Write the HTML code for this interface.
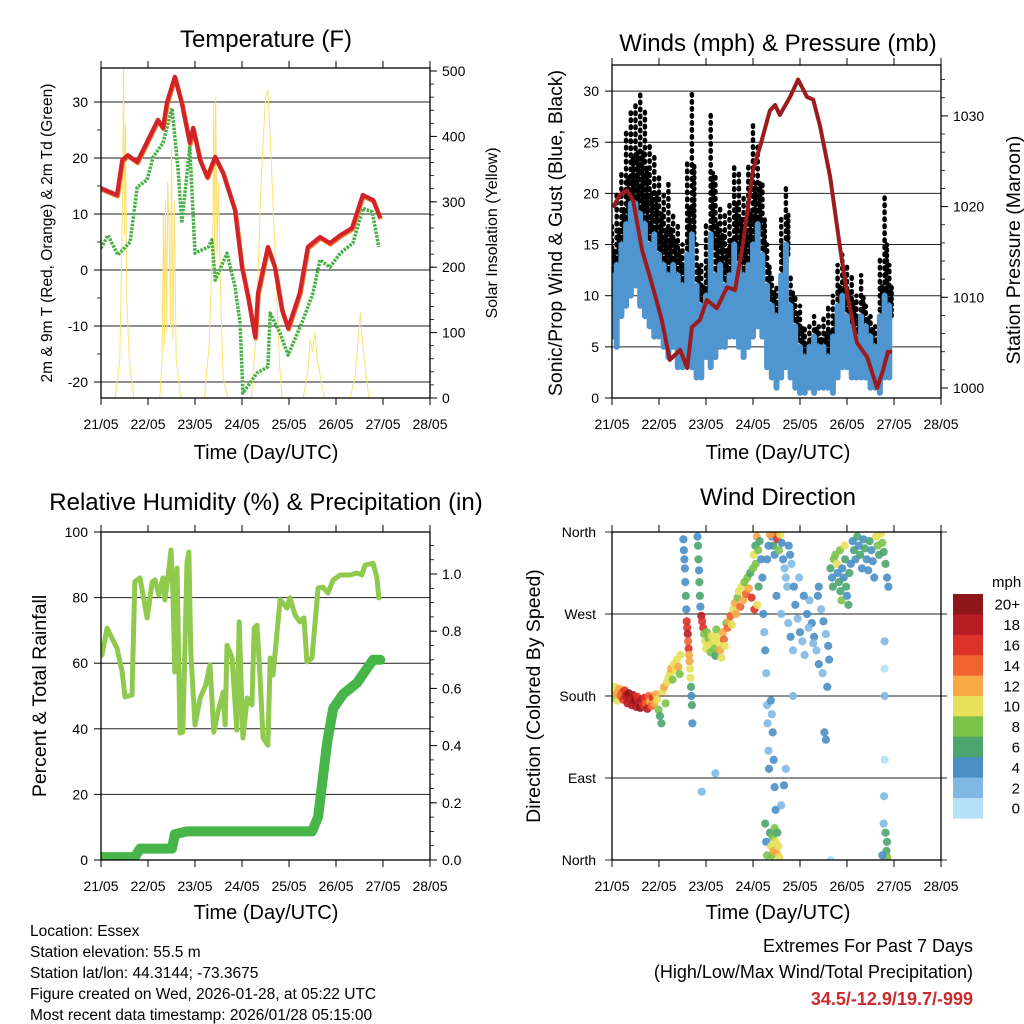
<!DOCTYPE html>
<html><head><meta charset="utf-8">
<style>
html,body{margin:0;padding:0;background:#fff;}
svg{display:block;font-family:"Liberation Sans",Arial,sans-serif;}
</style></head>
<body>
<svg id="chart" width="1024" height="1024" viewBox="0 0 1024 1024" xmlns="http://www.w3.org/2000/svg">
<rect x="0" y="0" width="1024" height="1024" fill="#fff"/>
<text x="266" y="47" font-size="24" text-anchor="middle">Temperature (F)</text>
<text transform="translate(52,233) rotate(-90)" font-size="15.5" text-anchor="middle">2m &amp; 9m T (Red, Orange) &amp; 2m Td (Green)</text>
<text transform="translate(497,233) rotate(-90)" font-size="16" text-anchor="middle">Solar Insolation (Yellow)</text>
<text x="266" y="459" font-size="20" text-anchor="middle">Time (Day/UTC)</text>

<text x="778" y="51" font-size="24" text-anchor="middle">Winds (mph) &amp; Pressure (mb)</text>
<text transform="translate(562,233) rotate(-90)" font-size="19.5" text-anchor="middle">Sonic/Prop Wind &amp; Gust (Blue, Black)</text>
<text transform="translate(1020,250) rotate(-90)" font-size="19.5" text-anchor="middle">Station Pressure (Maroon)</text>
<text x="778" y="459" font-size="20" text-anchor="middle">Time (Day/UTC)</text>

<text x="266" y="510" font-size="24" text-anchor="middle">Relative Humidity (%) &amp; Precipitation (in)</text>
<text transform="translate(46,696) rotate(-90)" font-size="19.5" text-anchor="middle">Percent &amp; Total Rainfall</text>
<text x="266" y="919" font-size="20" text-anchor="middle">Time (Day/UTC)</text>

<text x="778" y="505" font-size="24" text-anchor="middle">Wind Direction</text>
<text transform="translate(540,696) rotate(-90)" font-size="19.5" text-anchor="middle">Direction (Colored By Speed)</text>
<text x="778" y="919" font-size="20" text-anchor="middle">Time (Day/UTC)</text>
<text x="992" y="587" font-size="15">mph</text>

<g font-size="15.5">
<text x="30" y="936">Location: Essex</text>
<text x="30" y="957">Station elevation: 55.5 m</text>
<text x="30" y="978">Station lat/lon: 44.3144; -73.3675</text>
<text x="30" y="999">Figure created on Wed, 2026-01-28, at 05:22 UTC</text>
<text x="30" y="1020">Most recent data timestamp: 2026/01/28 05:15:00</text>
</g>
<g font-size="18" text-anchor="end">
<text x="973" y="952">Extremes For Past 7 Days</text>
<text x="973" y="978">(High/Low/Max Wind/Total Precipitation)</text>
<text x="973" y="1005" font-weight="bold" fill="#cc2a2e">34.5/-12.9/19.7/-999</text>
</g>
</svg>
<script>
// ---------- Data ----------
const dayLabels = ['21/05','22/05','23/05','24/05','25/05','26/05','27/05','28/05'];

const tempDays = [0,0.34,0.45,0.57,0.77,0.98,1.21,1.32,1.4,1.57,1.72,1.89,1.96,2.11,2.26,2.43,2.6,2.85,3.0,3.13,3.28,3.34,3.55,3.7,3.85,3.98,4.23,4.4,4.66,4.87,5.09,5.34,5.57,5.79,5.94];
const tempVals = [14.6,13.4,19.6,20.5,19.3,22.9,26.8,25.4,29.8,34.5,29.8,22.7,25.4,19.6,16.6,20.2,17.3,10.7,0.5,-4.8,-12,-4.1,4.1,0.5,-7.1,-10.4,-4.1,4.1,5.9,4.8,6.2,7.5,13.4,12.5,9.3];
const dewDays = [0,0.15,0.36,0.62,0.77,0.98,1.11,1.32,1.51,1.64,1.72,1.89,2.0,2.28,2.36,2.43,2.68,2.85,2.96,3.02,3.32,3.55,3.6,3.81,3.98,4.3,4.51,4.66,4.87,5.09,5.36,5.57,5.77,5.91];
const dewVals = [3.9,6.2,2.7,5,14.8,16.1,20.2,22.7,28.9,17.9,8.4,22,3,4.1,5.4,-1.8,3,-3,-9.5,-22,-18.4,-17.3,-7.7,-11.3,-15.2,-8.9,-4.1,1.8,0.5,3,4.8,11,10.4,4.1];
const solarDays = [0,0.3,0.4,0.46,0.48,0.5,0.52,0.55,0.6,0.7,1.25,1.3,1.33,1.35,1.37,1.4,1.42,1.45,1.48,1.5,1.53,1.56,1.6,1.7,2.2,2.3,2.38,2.4,2.42,2.44,2.47,2.5,2.55,2.6,2.7,3.2,3.3,3.4,3.5,3.55,3.6,3.7,3.8,3.85,4.3,4.4,4.45,4.5,4.55,4.6,4.7,4.75,5.3,5.4,5.45,5.52,5.55,5.6,5.7,5.94];
const solarVals = [0,0,60,300,510,250,420,150,60,0,0,60,280,80,300,100,330,260,110,380,90,300,60,0,0,80,250,450,200,460,220,330,150,30,0,0,100,320,460,470,400,230,50,0,0,40,90,70,100,60,20,0,0,30,70,130,100,60,0,0];
const tempTicks = [-20,-10,0,10,20,30];
const solarTicks = [0,100,200,300,400,500];

const windStartDay = 0, windStepDay = 0.1;
const windLo = [6,5,8,9,10,11,9,8,7,6, 6,5,4,5,3,3,4,3,2,2, 4,3,4,5,5,6,6,5,4,5, 6,7,6,3,2,1,2,3,2,1, 0.5,0.5,1,0.5,1,1,1,0.5,2,3, 3,2,2,2,2,1,1,0.5,2,2];
const windHi = [12,13,15,17,19,19,18,17,15,16, 14,13,12,13,12,11,14,16,11,9, 10,16,12,13,11,12,15,13,12,13, 15,17,14,11,9,8,12,15,9,7, 5,4,5,6,5,5,4,6,9,10, 8,7,6,8,7,6,5,8,10,9];
const gustHi = [17,20,22,26,28,29,30,28,25,24, 22,20,21,18,17,15,23,30,15,13, 17,28,22,19,18,19,23,22,20,23, 27,25,21,15,12,11,18,21,12,10, 9,7,7,8,7,8,9,10,13,14, 13,12,10,12,9,8,7,14,20,13];
const presDays = [0.02,0.17,0.32,0.45,0.64,0.87,1.06,1.23,1.45,1.6,1.7,1.87,2.02,2.23,2.45,2.62,2.79,3.0,3.15,3.36,3.47,3.57,3.79,3.96,4.15,4.28,4.43,4.64,4.85,5.0,5.21,5.43,5.64,5.77,5.87,5.96];
const presVals = [1019.9,1021.3,1021.8,1020.7,1015.2,1011.1,1007.5,1003.1,1004.2,1002.2,1006.7,1007.5,1009.7,1008.8,1011.1,1010.8,1016,1024,1026.6,1030.6,1031.2,1030.1,1032.1,1034,1032.1,1031.8,1028.8,1023.3,1015.5,1010.5,1005,1003.4,1000,1002,1004,1004];
const windTicks = [0,5,10,15,20,25,30];
const presTicks = [1000,1010,1020,1030];

const rhDays = [0.02,0.13,0.23,0.34,0.45,0.51,0.66,0.72,0.83,0.98, 1.09,1.15,1.23,1.32,1.36,1.43,1.49,1.53,1.57,1.62, 1.68,1.74,1.79,1.83,1.87,1.91,2.0,2.11,2.23,2.32, 2.4,2.49,2.6,2.64,2.68,2.79,2.89,2.94,3.02,3.11, 3.21,3.26,3.32,3.38,3.45,3.55,3.6,3.66,3.74,3.81, 3.96,4.02,4.13,4.23,4.32,4.38,4.49,4.62,4.72,4.83, 4.94,5.09,5.3,5.45,5.55,5.62,5.79,5.87,5.91];
const rhVals = [62.5,70.7,67.7,64.6,57.3,49.7,50.3,84.8,86,73.8, 84.8,85.4,80.8,86,79.3,86.9,94.5,81.7,57.3,89, 38.7,39,66.5,90.9,93.9,63.4,41.2,49.4,53.4,59.5, 39,45.1,51.2,41.2,65.5,61.6,39.6,72.6,37.2,49.4, 47.3,70.7,71.6,56.4,37.2,35,61.6,56.4,68.6,79.3, 76.8,79.9,74.7,72.6,73.8,60.4,61.6,82.9,83.2,81.4, 85.4,86.9,86.9,87.5,86.9,89.9,90.5,86,79.9];
const precipDays = [0,0.72,0.83,1.51,1.57,1.83,4.49,4.62,4.81,4.94,5.15,5.45,5.66,5.79,5.94];
const precipVals = [0.01,0.01,0.04,0.04,0.09,0.1,0.1,0.15,0.41,0.53,0.58,0.62,0.67,0.70,0.70];
const rhTicks = [0,20,40,60,80,100];
const precipTicks = [0,0.2,0.4,0.6,0.8,1.0];
const precipTickLabels = ['0.0','0.2','0.4','0.6','0.8','1.0'];

const dirDays = [
0.00,0.03,0.06,0.09,0.12,0.15,0.18,0.21,0.24,0.27,
0.30,0.33,0.36,0.39,0.42,0.45,0.48,0.51,0.54,0.57,
0.60,0.63,0.66,0.69,0.72,0.75,0.78,0.81,0.84,0.87,
0.90,0.93,0.96,0.99,1.02,1.05,1.08,1.11,1.14,1.17,
1.20,1.23,1.26,1.29,1.32,1.35,1.38,1.41,1.44,1.46,
1.52,1.53,1.54,1.55,1.56,1.57,1.58,1.59,1.60,1.61,
1.62,1.63,1.64,1.65,1.66,1.67,1.68,1.69,1.70,1.71,
1.82,1.83,1.84,1.85,1.86,1.87,1.88,1.90,1.92,1.94,
1.96,1.98,2.00,2.02,2.05,2.08,2.10,2.12,2.15,2.18,
2.20,2.22,2.25,2.28,2.30,2.33,2.36,2.38,2.40,2.43,
2.46,2.49,2.52,2.55,2.58,2.61,2.64,2.67,2.70,2.73,
2.76,2.79,2.82,2.85,2.88,2.91,2.94,2.97,3.00,3.03,
3.06,3.09,3.02,3.05,3.08,3.11,3.14,3.17,3.20,3.12,
3.22,3.24,3.26,3.28,3.30,3.31,3.33,3.34,3.26,3.28,
3.30,3.36,3.38,3.40,3.42,3.44,3.46,3.48,3.50,3.52,
3.54,3.56,3.38,3.40,3.42,3.44,3.46,3.48,3.66,3.70,
3.40,3.43,3.46,3.49,3.52,3.55,3.58,3.61,3.64,3.67,
3.70,3.73,3.76,3.79,3.82,3.30,3.33,3.36,3.50,3.60,
3.75,3.80,3.85,3.90,3.95,4.00,4.05,4.10,4.15,4.20,
4.25,4.30,4.35,4.40,4.45,4.50,4.55,4.60,4.62,4.40,
3.87,3.98,4.08,4.18,4.28,4.38,4.48,4.58,3.85,4.52,
4.65,4.68,4.70,4.72,4.75,4.78,4.80,4.83,4.86,4.88,
4.90,4.93,4.96,4.98,5.00,5.03,5.05,5.08,4.85,4.95,
5.12,5.15,5.18,5.22,5.25,5.28,5.32,5.35,5.38,5.42,
5.45,5.48,5.52,5.55,5.58,5.62,5.65,5.68,5.72,5.75,
5.78,5.82,5.85,5.88,5.80,5.80,5.80,5.80,5.79,5.82,
5.84,5.86,5.78,5.75,4.65,4.55,2.20,1.91,5.85,3.60];
const dirDegs = [
185,178,190,182,175,188,180,184,176,186,
180,172,183,177,170,181,175,168,179,173,
167,176,170,178,172,166,180,174,169,178,
172,182,176,165,158,150,185,190,172,195,
200,205,210,198,215,208,220,212,204,225,
352,340,330,320,305,290,275,262,255,248,
240,232,225,218,210,200,190,180,170,150,
355,345,330,318,305,290,278,268,262,255,
248,240,232,250,243,236,228,246,239,232,
224,253,245,238,230,222,250,242,235,260,
255,262,268,258,275,282,270,288,295,278,
300,285,305,292,310,298,315,288,320,275,
325,280,335,345,355,340,350,330,310,300,
270,250,230,205,170,150,120,100,40,20,
5,30,15,5,25,10,35,20,8,30,
15,3,175,160,140,110,80,55,82,100,
355,345,335,358,352,340,357,348,330,320,
310,300,345,335,325,330,345,357,290,270,
260,245,230,280,265,250,240,225,270,285,
260,245,230,215,275,262,248,235,220,300,
300,310,290,255,238,290,205,190,180,140,
320,310,300,330,335,325,315,305,295,285,
320,310,330,300,290,280,315,325,340,345,
350,340,330,355,345,335,320,352,342,330,
318,350,340,328,310,355,345,335,358,348,
338,325,310,300,240,210,180,110,70,30,
10,3,40,5,0,132,95,75,20,60];
const dirSpeeds = [
9,8,10,11,9,12,13,14,15,16,
17,18,19,18,17,18,19,17,16,18,
19,17,15,16,14,18,13,12,14,15,
11,12,9,8,6,5,10,11,7,10,
9,10,11,8,10,9,10,11,8,9,
4,3,4,3,4,5,4,16,15,17,
14,15,12,11,10,9,5,4,5,3,
4,5,6,4,5,6,4,17,16,15,
8,9,10,7,8,9,7,10,9,8,
6,8,10,9,11,10,12,14,9,7,
13,12,14,10,9,11,12,8,10,13,
9,11,7,14,8,12,6,15,8,15,
7,10,9,6,12,7,6,4,3,5,
3,2,3,2,1,2,1,3,6,3,
8,6,9,7,8,11,7,10,12,6,
9,10,4,2,3,4,4,3,3,2,
4,5,4,14,15,7,9,4,3,2,
2,2,4,3,2,3,4,12,3,2,
2,3,2,4,2,3,2,1,3,2,
3,4,2,3,2,3,2,3,4,4,
3,2,4,1,2,4,2,3,1,3,
5,4,6,8,7,9,4,6,5,7,
4,3,5,6,4,6,5,4,8,9,
4,5,3,6,4,5,3,4,5,4,
3,5,4,3,4,9,7,6,10,8,
6,5,4,4,1,0,1,0,1,6,
6,7,1,3,0,4,1,1,5,2];
const dirTicks = [0,90,180,270,360];
const dirTickLabels = ['North','East','South','West','North'];
const speedBinLabels = ['0','2','4','6','8','10','12','14','16','18','20+'];
const speedColors = ['#b4e1f6','#7fb9e3','#4a8fc6','#4aa56f','#7bc24b','#e6e05a','#f6a945','#ef6330','#dc3228','#b81c24','#8e1518'];

// ---------- Helpers ----------
const NS = 'http://www.w3.org/2000/svg';
const svg = document.getElementById('chart');
function mk(tag, attrs, parent) {
  const e = document.createElementNS(NS, tag);
  for (const k in attrs) e.setAttribute(k, attrs[k]);
  (parent || svg).appendChild(e);
  return e;
}
function pathD(xs, ys, fx, fy) {
  let d = '';
  for (let i = 0; i < xs.length; i++) d += (i ? 'L' : 'M') + fx(xs[i]).toFixed(1) + ',' + fy(ys[i]).toFixed(1);
  return d;
}
const panels = {
  temp: {x0:101, x1:430, y0:68, y1:398},
  wind: {x0:612, x1:941, y0:65, y1:398},
  rh:   {x0:101, x1:430, y0:532, y1:860},
  dir:  {x0:612, x1:941, y0:532, y1:860}
};
const DAYPX = 47;
function xScale(p) { return d => p.x0 + DAYPX * d; }
const yTemp = v => 270 - 5.6 * v;
const ySolar = v => 398 - 0.654 * v;
const yWind = v => 398 - 10.23 * v;
const yPres = v => 388 - 9.07 * (v - 1000);
const yRh = v => 860 - 3.28 * v;
const yPrecip = v => 860 - 286 * v;
const yDir = v => 860 - v * 328 / 360;

function clipFor(p, id) {
  const cp = mk('clipPath', {id: id});
  mk('rect', {x: p.x0, y: p.y0, width: p.x1 - p.x0, height: p.y1 - p.y0}, cp);
}

function xAxis(p, name) {
  const g = mk('g', {'font-size': 14, 'text-anchor': 'middle'});
  
  
  const fx = xScale(p);
  dayLabels.forEach((lab, i) => {
    const x = fx(i);
    mk('line', {x1: x, y1: p.y0 - 7, x2: x, y2: p.y0, stroke: '#000', 'stroke-width': 1}, g);
    mk('line', {x1: x, y1: p.y1, x2: x, y2: p.y1 + 7, stroke: '#000', 'stroke-width': 1}, g);
    const t = mk('text', {x: x, y: p.y1 + 31}, g);
    t.textContent = lab;
    
    
  });
}
function leftAxis(p, ticks, labels, fy, minorStep, name, grid) {
  const g = mk('g', {'font-size': 14, 'text-anchor': 'end'});
  
  
  ticks.forEach((v, i) => {
    const y = fy(v);
    if (grid) mk('line', {x1: p.x0, y1: y, x2: p.x1, y2: y, stroke: '#222', 'stroke-width': 1}, g);
    mk('line', {x1: p.x0 - 7, y1: y, x2: p.x0, y2: y, stroke: '#000', 'stroke-width': 1}, g);
    const t = mk('text', {x: p.x0 - 13, y: y + 5}, g);
    t.textContent = labels ? labels[i] : String(v);
    
    
  });
  if (minorStep) {
    for (let v = ticks[0]; v <= ticks[ticks.length - 1] + 1e-9; v += minorStep) {
      const y = fy(v);
      if (y < p.y0 || y > p.y1) continue;
      mk('line', {x1: p.x0 - 4, y1: y, x2: p.x0, y2: y, stroke: '#000', 'stroke-width': 0.8}, g);
    }
  }
}
function rightAxis(p, ticks, labels, fy, minorStep, name) {
  const g = mk('g', {'font-size': 14, 'text-anchor': 'start'});
  
  
  ticks.forEach((v, i) => {
    const y = fy(v);
    mk('line', {x1: p.x1, y1: y, x2: p.x1 + 7, y2: y, stroke: '#000', 'stroke-width': 1}, g);
    const t = mk('text', {x: p.x1 + 12, y: y + 5}, g);
    t.textContent = labels ? labels[i] : String(v);
    
    
  });
  if (minorStep) {
    for (let v = ticks[0] - 5 * minorStep; v <= ticks[ticks.length - 1] + 5 * minorStep; v += minorStep) {
      const y = fy(v);
      if (y < p.y0 || y > p.y1) continue;
      mk('line', {x1: p.x1, y1: y, x2: p.x1 + 4, y2: y, stroke: '#000', 'stroke-width': 0.8}, g);
    }
  }
}
function frame(p, name) {
  const r = mk('rect', {x: p.x0, y: p.y0, width: p.x1 - p.x0, height: p.y1 - p.y0, fill: 'none', stroke: '#000', 'stroke-width': 1.3});
  
  
}

// ---------- Panel 1: Temperature ----------
(function(){
  const p = panels.temp, fx = xScale(p);
  clipFor(p, 'clipT');
  leftAxis(p, tempTicks, null, yTemp, 5, 'temperature-y-axis', true);
  rightAxis(p, solarTicks, null, ySolar, 20, 'solar-y-axis');
  xAxis(p, 'temperature-x-axis');
  const g = mk('g', {'clip-path': 'url(#clipT)'});
  
  
  const s = mk('path', {d: pathD(solarDays, solarVals, fx, ySolar), fill: 'none', stroke: '#fbe072', 'stroke-width': 1, 'stroke-linejoin': 'round'}, g);
  
  
  const dw = mk('path', {d: pathD(dewDays, dewVals, fx, yTemp), fill: 'none', stroke: '#45b043', 'stroke-width': 3.5, 'stroke-dasharray': '2.5 1.2', 'stroke-linejoin': 'round'}, g);
  
  
  const o = mk('path', {d: pathD(tempDays, tempVals, fx, yTemp), fill: 'none', stroke: '#f07c28', 'stroke-width': 4.5, transform: 'translate(0.6,1.2)', 'stroke-linejoin': 'round'}, g);
  
  
  const r = mk('path', {d: pathD(tempDays, tempVals, fx, yTemp), fill: 'none', stroke: '#d2232a', 'stroke-width': 4.2, 'stroke-linejoin': 'round'}, g);
  
  
  frame(p, 'temperature-frame');
})();

// ---------- Panel 2: Winds & Pressure ----------
(function(){
  const p = panels.wind, fx = xScale(p);
  clipFor(p, 'clipW');
  leftAxis(p, windTicks, null, yWind, 0, 'wind-y-axis', true);
  rightAxis(p, presTicks, null, yPres, 2, 'pressure-y-axis');
  xAxis(p, 'winds-x-axis');
  const g = mk('g', {'clip-path': 'url(#clipW)'});
  
  
  const gg = mk('g', {}, g);
  
  
  const bg = mk('g', {}, g);
  
  
  for (let i = 0; i < windHi.length; i++) {
    const x = fx(windStartDay + i * windStepDay);
    const gl = mk('line', {x1: x, y1: yWind(windHi[i] - 1.5), x2: x, y2: yWind(gustHi[i]), stroke: '#000', 'stroke-width': 4.5, 'stroke-linecap': 'round', 'stroke-dasharray': '1.5 5.5'}, gg);
    
    
    const gl2 = mk('line', {x1: x + 2.3, y1: yWind(windHi[i] - 1), x2: x + 2.3, y2: yWind((windHi[i] + gustHi[i]) / 2), stroke: '#000', 'stroke-width': 4.5, 'stroke-linecap': 'round', 'stroke-dasharray': '1.5 4'}, gg);
    
    
    const bl = mk('line', {x1: x, y1: yWind(windLo[i]), x2: x, y2: yWind(windHi[i]), stroke: '#4f96d0', 'stroke-width': 6, 'stroke-linecap': 'round'}, bg);
    
    
  }
  const pr = mk('path', {d: pathD(presDays, presVals, fx, yPres), fill: 'none', stroke: '#9b1b1e', 'stroke-width': 4, 'stroke-linejoin': 'round'}, g);
  
  
  frame(p, 'winds-frame');
})();

// ---------- Panel 3: RH & Precip ----------
(function(){
  const p = panels.rh, fx = xScale(p);
  clipFor(p, 'clipR');
  leftAxis(p, rhTicks, null, yRh, 0, 'humidity-y-axis', true);
  rightAxis(p, precipTicks, precipTickLabels, yPrecip, 0.05, 'precip-y-axis');
  xAxis(p, 'humidity-x-axis');
  const g = mk('g', {'clip-path': 'url(#clipR)'});
  
  
  const rh = mk('path', {d: pathD(rhDays, rhVals, fx, yRh), fill: 'none', stroke: '#8fca4f', 'stroke-width': 5, 'stroke-linejoin': 'round', 'stroke-linecap': 'round'}, g);
  
  
  const pc = mk('path', {d: pathD(precipDays, precipVals, fx, yPrecip), fill: 'none', stroke: '#47b548', 'stroke-width': 10, 'stroke-linejoin': 'round', 'stroke-linecap': 'round'}, g);
  
  
  frame(p, 'humidity-frame');
})();

// ---------- Panel 4: Wind Direction ----------
(function(){
  const p = panels.dir, fx = xScale(p);
  clipFor(p, 'clipD');
  const ax = mk('g', {'font-size': 14, 'text-anchor': 'end'});
  
  
  dirTicks.forEach((v, i) => {
    const y = yDir(v);
    mk('line', {x1: p.x0 - 7, y1: y, x2: p.x1 + 6, y2: y, stroke: '#222', 'stroke-width': 1}, ax);
    const t = mk('text', {x: p.x0 - 16, y: y + 5}, ax);
    t.textContent = dirTickLabels[i];
    
    
  });
  xAxis(p, 'wind-direction-x-axis');
  const g = mk('g', {'clip-path': 'url(#clipD)'});
  
  
  for (let i = 0; i < dirDays.length; i++) {
    const idx = Math.max(0, Math.min(10, Math.round(dirSpeeds[i] / 2)));
    const c = mk('circle', {cx: fx(dirDays[i]).toFixed(1), cy: yDir(dirDegs[i]).toFixed(1), r: 4.1, fill: speedColors[idx], 'fill-opacity': 0.9}, g);
    
    
  }
  frame(p, 'wind-direction-frame');
  const cb = mk('g', {'font-size': 15, 'text-anchor': 'end'});
  
  
  const top = 594, h = 20.4;
  for (let k = 0; k < speedColors.length; k++) {
    const j = speedColors.length - 1 - k;
    const y = top + k * h;
    const r = mk('rect', {x: 953, y: y, width: 30, height: h + 0.3, fill: speedColors[j]}, cb);
    
    
    const t = mk('text', {x: 1020, y: y + h / 2 + 5.5}, cb);
    t.textContent = speedBinLabels[j];
    
    
  }
})();
</script>
</body></html>
